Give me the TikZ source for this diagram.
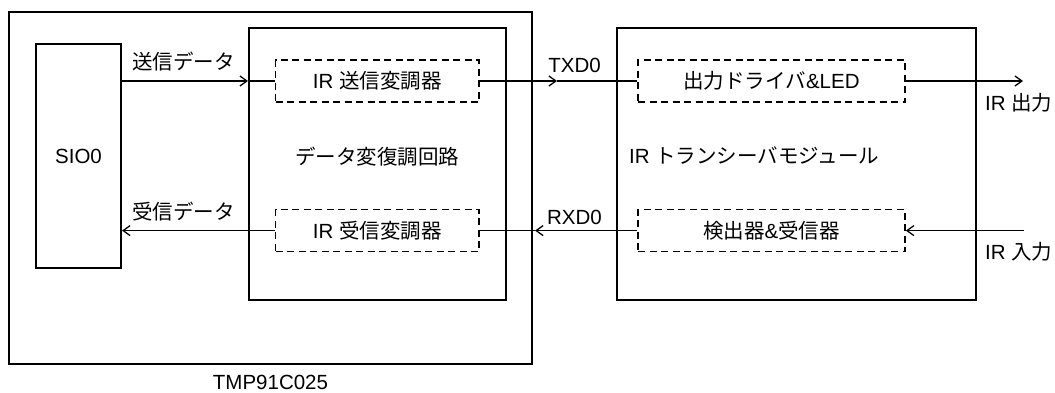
\documentclass[tikz,border=0pt]{standalone}
\usepackage{fontspec}
\setmainfont{Liberation Sans}
\newfontfamily\jpf{Noto Sans CJK JP}
\usetikzlibrary{arrows.meta}
\begin{document}
\begin{tikzpicture}[x=1pt,y=-1pt,
  font=\fontsize{20.5}{24}\selectfont,
  box/.style={draw, line width=2pt, inner sep=0pt, rectangle},
  dbox/.style={draw, line width=1.6pt, dash pattern=on 7pt off 4.5pt, inner sep=0pt, rectangle, minimum height=42pt},
  ln/.style={line width=1.6pt},
  arr/.style={line width=1.6pt, -{Straight Barb[length=7pt,width=10pt,line width=1.3pt]}},
  lbl/.style={inner sep=0pt}]
\useasboundingbox (0,0) rectangle (1055,392);
\fill[white] (0,0) rectangle (1055,392);
% boxes
\node[box, minimum width=523pt, minimum height=352pt] (outer) at (270.5,188) {};
\node[box, minimum width=85pt, minimum height=224pt] (sio) at (78.5,156) {};
\node[box, minimum width=256.5pt, minimum height=272pt] (demod) at (377.25,164) {};
\node[box, minimum width=358.5pt, minimum height=272pt] (trx) at (796.25,164) {};
\node[dbox, minimum width=203.5pt] (tx) at (377.25,81) {};
\node[dbox, minimum width=203.5pt] (rx) at (377.25,230.6) {};
\node[dbox, minimum width=267pt] (out) at (771.5,81) {};
\node[dbox, minimum width=267pt] (det) at (771.5,230.6) {};
% texts
\node[lbl] (siot) at (sio.center) {SIO0};
\node[lbl] (txt) at (tx.center) {IR {\jpf 送信変調器}};
\node[lbl] (rxt) at (rx.center) {IR {\jpf 受信変調器}};
\node[lbl] (demt) at (377,156.5) {\jpf データ変復調回路};
\node[lbl] (outt) at (out.center) {{\jpf 出力ドライバ}\&LED};
\node[lbl] (dett) at (det.center) {{\jpf 検出器}\&{\jpf 受信器}};
\node[lbl, anchor=west] (trxt) at (629,156) {IR {\jpf トランシーバモジュール}};
\node[lbl] (sendt) at (183.5,61.5) {\jpf 送信データ};
\node[lbl] (recvt) at (183.5,211.5) {\jpf 受信データ};
\node[lbl] (txd) at (574.5,65) {TXD0};
\node[lbl] (rxd) at (574.5,217) {RXD0};
\node[lbl, anchor=west] (iroutt) at (985,103) {IR {\jpf 出力}};
\node[lbl, anchor=west] (irint) at (985,252) {IR {\jpf 入力}};
\node[lbl] (chip) at (270.5,382) {TMP91C025};
% connectors
\coordinate (a1) at (demod.west |- tx.west);
\draw[arr] (sio.east |- tx.west) -- (a1);
\draw[ln] (a1) -- (tx.west);
\coordinate (a2) at (557,81);
\draw[arr] (tx.east) -- (a2);
\draw[ln] (a2) -- (out.west);
\coordinate (irout) at (1023,81);
\draw[arr] (out.east) -- (irout);
\coordinate (irin) at (1024,230.6);
\draw[arr] (irin) -- (det.east);
\coordinate (a3) at (535,230.6);
\draw[arr] (det.west) -- (a3);
\draw[ln] (a3) -- (rx.east);
\draw[arr] (rx.west) -- (sio.east |- rx.west);
\end{tikzpicture}
\end{document}
